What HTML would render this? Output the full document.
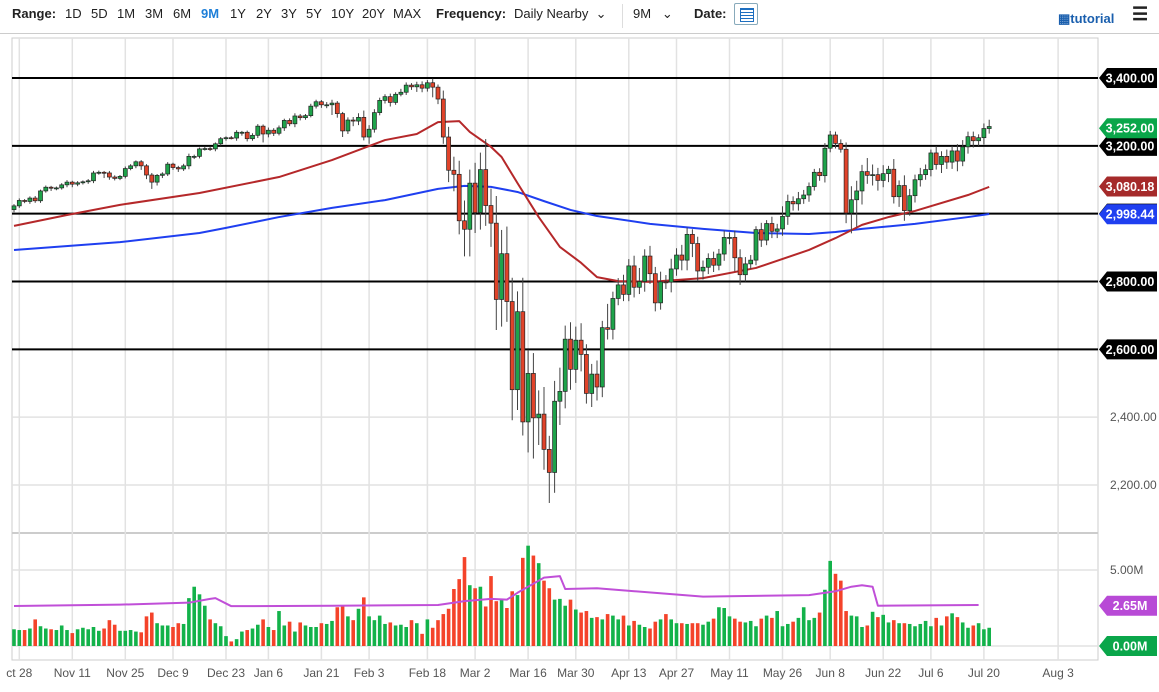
<!DOCTYPE html>
<html><head><meta charset="utf-8"><style>
body{margin:0;background:#fff;font-family:"Liberation Sans",sans-serif;}
#wrap{position:relative;width:1159px;height:692px;overflow:hidden;}
.tb{position:absolute;top:6px;font-size:13px;color:#222;}
.b{font-weight:bold;}
</style></head><body>
<div id="wrap">
<div>
<span class="tb b" style="left:12px">Range:</span>
<span class="tb" style="left:65px">1D</span>
<span class="tb" style="left:91px">5D</span>
<span class="tb" style="left:117px">1M</span>
<span class="tb" style="left:145px">3M</span>
<span class="tb" style="left:173px">6M</span>
<span class="tb b" style="left:201px;color:#1e7fd8">9M</span>
<span class="tb" style="left:230px">1Y</span>
<span class="tb" style="left:256px">2Y</span>
<span class="tb" style="left:281px">3Y</span>
<span class="tb" style="left:306px">5Y</span>
<span class="tb" style="left:331px">10Y</span>
<span class="tb" style="left:362px">20Y</span>
<span class="tb" style="left:393px">MAX</span>
<span class="tb b" style="left:436px">Frequency:</span>
<span class="tb" style="left:514px">Daily Nearby &nbsp;⌄</span>
<div style="position:absolute;left:622px;top:4px;width:1px;height:24px;background:#ddd"></div>
<span class="tb" style="left:633px">9M &nbsp;&nbsp;⌄</span>
<span class="tb b" style="left:694px">Date:</span>
<div style="position:absolute;left:734px;top:3px;width:24px;height:22px;border:1px solid #8ab;border-radius:2px;box-sizing:border-box">
<div style="position:absolute;left:5px;top:4px;width:12px;height:12px;border:1px solid #1e6fc0;background:repeating-linear-gradient(0deg,#fff 0 2px,#1e6fc0 2px 3px)"></div></div>
<span class="tb b" style="left:1058px;top:11px;color:#1a5fae">▦tutorial</span>
<span class="tb b" style="left:1132px;top:4px;font-size:18px">☰</span>
<div style="position:absolute;left:0;top:33px;width:1159px;height:1px;background:#ccc"></div>
</div>
<svg id="chart" width="1159" height="692" style="position:absolute;left:0;top:0"></svg>
</div>
<script>
const closes=[3023,3039,3036,3046,3038,
3067,3078,3075,3076,3085,3093,3087,3091,3094,3097,3120,3122,3120,3108,3104,3110,3133,3141,3153,3141,
3114,3093,3113,3117,3146,3136,3132,3141,3169,3169,3191,3192,3191,3206,3221,3224,3223,3240,3240,3221,3231,
3258,3235,3246,3237,3253,3275,3265,3288,3283,3289,3317,3330,3321,3321,3326,3295,3244,3276,3273,3284,3226,
3249,3298,3334,3345,3328,3352,3358,3379,3374,3380,3370,3386,3373,3338,3226,3128,3116,2979,2954,
3090,3003,3130,3024,2972,2747,2882,2741,2481,2711,2386,2529,2398,2409,2305,2237,2447,2476,2630,2541,2627,2585,
2470,2527,2489,2664,2659,2750,2790,2762,2846,2783,2800,2875,2823,2737,2799,2798,2837,2878,2863,2939,2912,
2831,2842,2868,2848,2881,2930,2930,2870,2820,2852,2863,2953,2922,2971,2948,2955,2992,3036,3029,3044,
3055,3080,3122,3112,3193,3232,3207,3190,3002,3041,3067,3124,3113,3115,3098,3118,3131,3050,3083,3009,3053,3100,
3115,3130,3179,3145,3169,3152,3185,3155,3197,3227,3215,3224,3251,3257];
const firstOpen=3012;
const wickUp=[5,6,4,5,6,4,5,4,4,5,6,4,5,4,5,6,5,4,6,5,4,6,5,4,5,
5,6,4,5,6,4,5,6,8,5,4,5,6,4,5,4,5,6,4,5,6,
6,5,8,6,7,5,6,8,6,5,7,6,5,8,10,6,5,8,9,12,20,
12,10,8,7,9,6,10,8,6,9,10,8,12,8,25,30,40,40,60,
40,60,50,90,50,80,70,80,70,60,100,70,60,70,80,40,60,70,40,50,40,50,
30,30,40,20,70,20,20,30,20,30,40,20,30,20,30,20,30,20,30,20,15,
20,20,15,20,15,20,15,20,25,20,15,10,20,10,20,15,30,20,15,20,
15,12,10,12,15,12,10,12,20,40,30,20,40,30,20,25,10,30,15,30,20,15,
20,15,10,20,15,20,15,20,20,15,15,10,15,20];
const wickDn=[8,6,5,7,6,6,5,8,6,5,7,9,6,5,6,7,5,15,8,6,5,6,5,7,12,
12,20,10,8,6,7,9,6,10,8,6,5,6,7,5,6,4,8,10,8,6,
8,25,10,8,6,9,7,10,8,6,5,7,9,10,30,12,18,9,15,12,10,
20,10,8,9,12,7,6,8,9,15,12,10,30,15,20,35,50,40,80,
80,60,50,60,70,90,80,60,90,60,40,90,120,80,60,90,60,70,50,60,40,50,
30,40,40,30,30,30,20,20,20,30,20,30,30,25,20,20,30,20,30,30,40,
30,25,20,20,15,20,20,40,30,20,15,15,20,15,20,20,20,25,20,20,
15,20,12,15,20,12,15,10,30,60,80,40,25,30,30,20,25,20,30,30,15,20,
20,15,20,15,25,20,20,30,15,20,20,15,20,15];
const volumes=[1.1,1.05,1.05,1.15,1.75,1.3,1.15,1.1,1.05,1.35,1.05,0.85,1.1,1.2,1.1,1.25,1.0,1.15,1.7,1.4,1.0,1.0,1.05,0.95,0.9,
1.95,2.2,1.5,1.35,1.35,1.25,1.5,1.45,3.15,3.9,3.4,2.65,1.75,1.5,1.3,0.65,0.3,0.45,0.95,1.05,1.15,
1.4,1.75,1.25,1.05,2.3,1.35,1.6,0.95,1.55,1.35,1.25,1.25,1.5,1.45,1.65,2.55,2.6,1.95,1.7,2.45,3.2,
1.95,1.7,2.0,1.45,1.55,1.35,1.4,1.25,1.7,1.5,0.8,1.75,1.2,1.7,2.1,2.45,3.75,4.4,5.85,
4.0,3.8,3.9,2.6,4.6,2.95,3.1,2.5,3.6,3.35,5.8,6.6,5.95,5.45,4.3,3.8,3.05,3.1,2.65,3.05,2.4,2.2,
2.3,1.85,1.9,1.75,2.1,2.0,1.75,2.0,1.35,1.65,1.4,1.25,1.15,1.6,1.75,2.1,1.75,1.5,1.5,1.45,1.5,
1.5,1.4,1.6,1.8,2.55,2.5,1.95,1.8,1.6,1.55,1.65,1.3,1.8,2.0,1.85,2.3,1.3,1.45,1.6,1.85,
2.55,1.7,1.85,2.2,3.7,5.6,4.75,4.3,2.3,2.0,1.95,1.25,1.35,2.25,1.9,2.05,1.55,1.7,1.5,1.5,1.45,1.3,
1.45,1.65,1.3,1.85,1.35,1.95,2.15,1.9,1.55,1.2,1.35,1.5,1.1,1.2];
const redIdx=[0,10,20,35,50,60,70,76,80,84,86,90,92,95,99,103,107,110,114,120,130,140,150,155,160,165,170,180,184];
const redMA=[2964,2996,3026,3061,3108,3158,3217,3235,3270,3273,3241,3197,3167,3090,2990,2902,2855,2813,2801,2799,2810,2840,2893,2928,2967,2990,3008,3055,3079];
const blueIdx=[0,20,35,40,50,60,70,80,85,90,95,100,105,110,120,130,140,150,155,160,170,180,184];
const blueMA=[2893,2916,2943,2958,2990,3017,3040,3073,3082,3079,3064,3037,3011,2993,2970,2955,2943,2940,2946,2955,2970,2990,2999];
const volMaIdx=[0,20,33,37,38,41,60,80,85,90,93,95,98,100,103,104,110,130,150,155,158,160,162,163,182];
const volMA=[2.63,2.72,2.85,3.1,3.15,2.62,2.65,2.7,2.95,3.1,3.05,3.5,4.1,4.5,4.6,3.75,3.8,3.25,3.35,3.6,3.9,4.0,3.9,2.65,2.7];
const dateLabels=["ct 28","Nov 11","Nov 25","Dec 9","Dec 23","Jan 6","Jan 21","Feb 3","Feb 18","Mar 2","Mar 16","Mar 30","Apr 13","Apr 27","May 11","May 26","Jun 8","Jun 22","Jul 6","Jul 20","Aug 3"];
const dateIdx=[1,11,21,30,40,48,58,67,78,87,97,106,116,125,135,145,154,164,173,183,197];
const priceTicks=[3400,3200,3000,2800,2600,2400,2200];
const priceLevels=[3400,3200,3000,2800,2600];
const volTicks=[5,0];

const svg=document.getElementById('chart');
const NS='http://www.w3.org/2000/svg';
function X(i){return 14+i*5.3;}
function Y(p){return 78+(3400-p)*0.33917;}
function VY(v){return 646-v*15.2;}
function mk(tag,attrs,parent){const e=document.createElementNS(NS,tag);for(const k in attrs)e.setAttribute(k,attrs[k]);(parent||svg).appendChild(e);return e;}

// frame
let e;
e=mk('rect',{x:12,y:38,width:1086,height:622,fill:'none',stroke:'#ccc','stroke-width':1});


e=mk('line',{x1:12,x2:1098,y1:533,y2:533,stroke:'#ccc','stroke-width':2});


// vertical grid & date labels
dateIdx.forEach((d,k)=>{
  const x=X(d);
  e=mk('line',{x1:x,x2:x,y1:38,y2:660,stroke:'#e2e2e2','stroke-width':1.5});
  
  
  e=mk('text',{x:x,y:677,'font-size':12,fill:'#555','text-anchor':'middle','font-family':'Liberation Sans, sans-serif'});
  e.textContent=dateLabels[k];
  
  
});
// price gridlines
priceTicks.forEach(p=>{
  e=mk('line',{x1:12,x2:1098,y1:Y(p),y2:Y(p),stroke:'#e2e2e2','stroke-width':1.5});
  
  
  if(priceLevels.indexOf(p)<0){
    e=mk('text',{x:1110,y:Y(p)+4,'font-size':12,fill:'#555','font-family':'Liberation Sans, sans-serif'});
    e.textContent=p.toLocaleString('en-US')+'.00';
    
    
  }
});
volTicks.forEach(v=>{
  e=mk('line',{x1:12,x2:1098,y1:VY(v),y2:VY(v),stroke:'#e2e2e2','stroke-width':1.5});
  
  
});
e=mk('text',{x:1110,y:VY(5)+4,'font-size':12,fill:'#555','font-family':'Liberation Sans, sans-serif'});
e.textContent='5.00M';


// horizontal levels
priceLevels.forEach(p=>{
  e=mk('line',{x1:12,x2:1098,y1:Y(p),y2:Y(p),stroke:'#000','stroke-width':2});
  
  
});
// MAs
function pline(idx,vals,fy,color,name,w){
  const pts=idx.map((d,k)=>X(d)+','+fy(vals[k])).join(' ');
  const l=mk('polyline',{points:pts,fill:'none',stroke:color,'stroke-width':w,'stroke-linejoin':'round'});
  
  
}
pline(blueIdx,blueMA,Y,'#1f3ff0','moving-average-200',2);
pline(redIdx,redMA,Y,'#b5282a','moving-average-50',2);
// candles
closes.forEach((c,i)=>{
  const o=i===0?firstOpen:closes[i-1];
  const up=c>=o;
  const x=X(i);
  const hi=Math.max(o,c)+(wickUp[i]||5), lo=Math.min(o,c)-(wickDn[i]||5);
  const g=mk('g',{});
  
  
  mk('line',{x1:x,x2:x,y1:Y(hi),y2:Y(lo),stroke:'#444','stroke-width':1},g);
  const top=Y(Math.max(o,c)),h=Math.max(1,Math.abs(Y(o)-Y(c)));
  mk('rect',{x:x-2,y:top,width:4,height:h,fill:up?'#1ea34a':'#e0432a',stroke:'#222','stroke-width':0.7},g);
  const vb=mk('rect',{x:x-1.8,y:VY(volumes[i]),width:3.6,height:volumes[i]*15.2,fill:up?'#13b24a':'#f4432a'});
  
  
});
pline(volMaIdx,volMA,VY,'#c04fd8','volume-moving-average',2);
// tags
function tag(yc,color,text,name){
  const g=mk('g',{});
  
  
  mk('polygon',{points:`1099,${yc} 1107,${yc-10} 1157,${yc-10} 1157,${yc+10} 1107,${yc+10}`,fill:color},g);
  const t=mk('text',{x:1130,y:yc+4.5,'font-size':12.5,'font-weight':'bold',fill:'#fff','text-anchor':'middle','font-family':'Liberation Sans, sans-serif'},g);
  t.textContent=text;
}
priceLevels.forEach(p=>tag(Y(p),'#000',p.toLocaleString('en-US')+'.00','price-level-tag'));
tag(Y(3252),'#0aa64a','3,252.00','last-price-tag');
tag(Y(3080.18),'#a52a2a','3,080.18','ma50-value-tag');
tag(Y(2998.44),'#1f3ff0','2,998.44','ma200-value-tag');
tag(VY(2.65),'#b84ad6','2.65M','volume-ma-tag');
tag(VY(0),'#0aa64a','0.00M','volume-zero-tag');
</script>
</body></html>
